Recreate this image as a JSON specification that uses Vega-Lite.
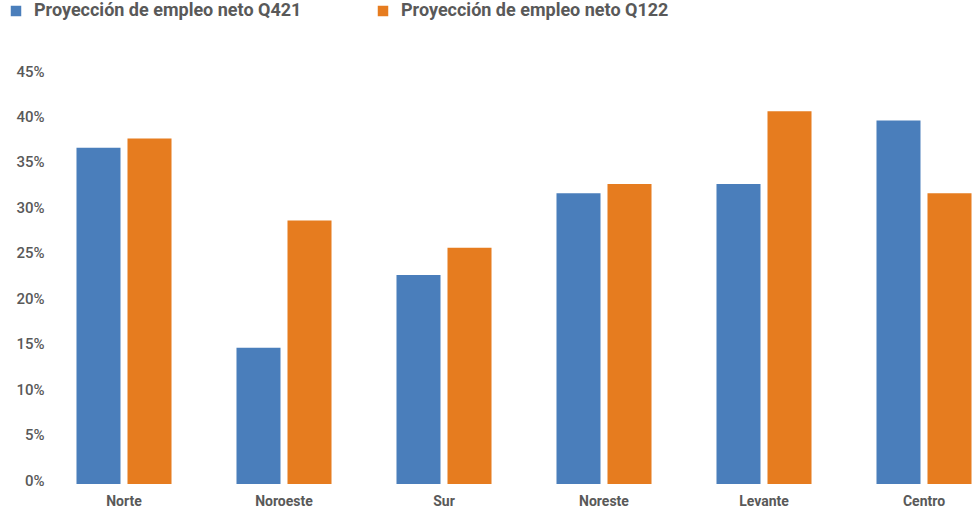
{
  "$schema": "https://vega.github.io/schema/vega-lite/v6.json",
  "autosize": "none",
  "width": 936,
  "height": 409,
  "padding": {"left": 44, "top": 75, "right": 0, "bottom": 30},
  "background": "white",
  "config": {"view": {"stroke": null}, "font": "Roboto"},
  "data": {"values": [
    {"zona": "Norte", "serie": "Proyección de empleo neto Q421", "valor": 0.37},
    {"zona": "Norte", "serie": "Proyección de empleo neto Q122", "valor": 0.38},
    {"zona": "Noroeste", "serie": "Proyección de empleo neto Q421", "valor": 0.15},
    {"zona": "Noroeste", "serie": "Proyección de empleo neto Q122", "valor": 0.29},
    {"zona": "Sur", "serie": "Proyección de empleo neto Q421", "valor": 0.23},
    {"zona": "Sur", "serie": "Proyección de empleo neto Q122", "valor": 0.26},
    {"zona": "Noreste", "serie": "Proyección de empleo neto Q421", "valor": 0.32},
    {"zona": "Noreste", "serie": "Proyección de empleo neto Q122", "valor": 0.33},
    {"zona": "Levante", "serie": "Proyección de empleo neto Q421", "valor": 0.33},
    {"zona": "Levante", "serie": "Proyección de empleo neto Q122", "valor": 0.41},
    {"zona": "Centro", "serie": "Proyección de empleo neto Q421", "valor": 0.40},
    {"zona": "Centro", "serie": "Proyección de empleo neto Q122", "valor": 0.32}
  ]},
  "mark": {"type": "bar"},
  "encoding": {
    "x": {
      "field": "zona", "type": "nominal",
      "sort": ["Norte", "Noroeste", "Sur", "Noreste", "Levante", "Centro"],
      "scale": {"range": [0, 960], "paddingInner": 0, "paddingOuter": 0},
      "axis": {"title": null, "labelAngle": 0, "domain": false, "ticks": false, "labelPadding": 10,
               "labelFont": "Roboto", "labelFontWeight": "bold", "labelFontSize": 14, "labelColor": "#595959"}
    },
    "xOffset": {
      "field": "serie", "type": "nominal",
      "sort": ["Proyección de empleo neto Q421", "Proyección de empleo neto Q122"],
      "scale": {"paddingInner": 0.137, "paddingOuter": 0.637}
    },
    "y": {
      "field": "valor", "type": "quantitative",
      "scale": {"domain": [0, 0.45], "nice": false},
      "axis": {"title": null, "format": ".0%", "values": [0, 0.05, 0.1, 0.15, 0.2, 0.25, 0.3, 0.35, 0.4, 0.45],
               "grid": false, "domain": false, "ticks": false, "labelPadding": 0, "labelOffset": -4,
               "labelFont": "Roboto", "labelFontWeight": 500, "labelFontSize": 15, "labelColor": "#595959"}
    },
    "color": {
      "field": "serie", "type": "nominal",
      "sort": ["Proyección de empleo neto Q421", "Proyección de empleo neto Q122"],
      "scale": {"range": ["#4A7EBB", "#E67C1F"]},
      "legend": {"title": null, "orient": "none", "direction": "horizontal", "legendX": -37, "legendY": -73,
                 "symbolType": "square", "symbolSize": 110, "symbolStrokeWidth": 0, "symbolOpacity": 1,
                 "labelFont": "Roboto", "labelFontWeight": "bold", "labelFontSize": 18,
                 "labelColor": "#595959", "labelLimit": 400, "labelOffset": 9, "columnPadding": 72}
    }
  }
}
